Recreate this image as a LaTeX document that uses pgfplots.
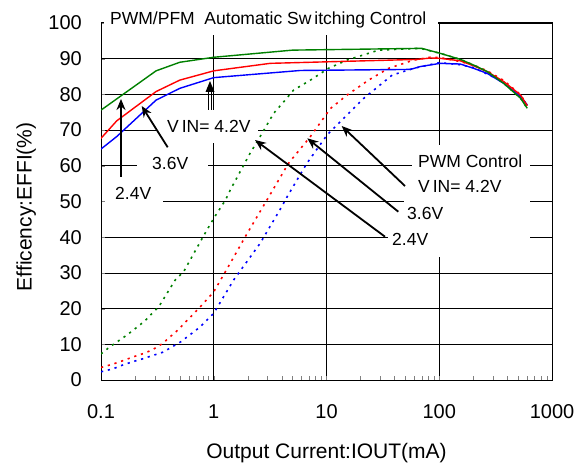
\documentclass[border=0pt]{standalone}
\usepackage{pgfplots}
\pgfplotsset{compat=1.18}
\usepackage{fontspec}
\setmainfont{Liberation Sans}
\usetikzlibrary{arrows.meta}
\definecolor{cg}{RGB}{0,128,0}
\definecolor{cr}{RGB}{255,0,0}
\definecolor{cb}{RGB}{0,0,255}
\begin{document}
\begin{tikzpicture}
\begin{axis}[
  name=ax, set layers, clip mode=individual,
  scale only axis, width=451pt, height=357pt,
  xmode=log, xmin=0.1, xmax=1000, ymin=0, ymax=100,
  xtick={0.1,1,10,100,1000}, xticklabels={0.1,1,10,100,1000},
  ytick={0,10,...,100},
  xtick pos=left, ytick pos=left, tick align=inside,
  major tick length=4pt, minor tick length=4pt,
  xmajorgrids, ymajorgrids,
  major grid style={black, line width=0.7pt},
  axis line style={line width=1pt},
  /pgf/number format/assume math mode=true,
  tick label style={font=\fontsize{20}{20}\selectfont},
  yticklabel style={anchor=east, inner sep=0pt, xshift=-19pt},
  xticklabel style={anchor=base, inner sep=0pt, yshift=-38pt},
  xlabel={Output Current:IOUT(mA)},
  ylabel={Efficency:EFFI(\%)},
  label style={font=\fontsize{21}{21}\selectfont},
  xlabel style={at={(axis description cs:0.5,0)}, anchor=base, yshift=-78pt},
  ylabel style={at={(axis description cs:-0.166,0.485)}, anchor=center},
]
% white boxes behind the labels, over the grid
\pgfplotsextra{%
\begin{pgfonlayer}{pre main}
\begin{scope}[shift={(rel axis cs:0,0)}]
  \fill[white] (3pt,345pt) rectangle (337pt,390pt);
  \node[anchor=base west, inner sep=0pt, font=\fontsize{17.5}{17.5}\selectfont]
    at (9pt,355pt) {PWM/PFM\ \ Automatic Sw\hspace{3pt}itching Control};
  \fill[white] (311pt,180pt) rectangle (429pt,235pt);
  \fill[white] (303pt,154pt) rectangle (429pt,180pt);
  \fill[white] (287pt,123pt) rectangle (429pt,154pt);
  \fill[white] (57pt,237pt) rectangle (157pt,270pt);
  \fill[white] (36pt,202pt) rectangle (107pt,230pt);
  \fill[white] (4pt,173pt) rectangle (62pt,197pt);
  \begin{scope}[every node/.style={anchor=base west, inner sep=0pt, font=\fontsize{17.5}{17.5}\selectfont}]
    \node at (317pt,212pt) {PWM Control};
    \node at (317pt,187pt) {V\hspace{3pt}IN= 4.2V};
    \node at (306pt,160pt) {3.6V};
    \node at (291pt,135pt) {2.4V};
    \node at (66pt,247pt) {V\hspace{3pt}IN= 4.2V};
    \node at (51pt,210pt) {3.6V};
    \node at (14pt,180pt) {2.4V};
  \end{scope}
\end{scope}
\end{pgfonlayer}}

% PWM control (dotted)
\addplot[cb, line width=1.6pt, dash pattern=on 2.2pt off 4.8pt] coordinates {
 (0.1,2.3) (0.127,3.1) (0.156,4.2) (0.19,5.1) (0.232,5.9) (0.284,6.8) (0.355,7.8)
 (0.428,9.3) (0.51,10.7) (0.76,14.9) (1.0,18.7) (1.5,28.0) (2.58,38.3) (4.0,48.5)
 (4.47,51.3) (5.47,56.0) (6.7,60.7) (10.1,68.6) (14.2,73.3) (21.4,78.9) (38.2,85.4)
 (59.3,87.3) (100,88.9) (154,88.3) (202,87.5) (266,85.7) (373,83.4) (527,79.2) (603,77.2)};
\addplot[cr, line width=1.6pt, dash pattern=on 2.2pt off 4.8pt] coordinates {
 (0.1,3.5) (0.129,4.5) (0.156,5.4) (0.19,6.4) (0.232,7.3) (0.284,8.4) (0.355,10.3)
 (0.41,12.1) (0.47,13.7) (0.76,20.5) (1.0,24.7) (1.4,32.7) (1.9,40.1) (2.96,50.4)
 (4.6,60.7) (7.2,68.2) (10.8,76.0) (15.2,79.8) (23.6,84.0) (35.5,87.3) (59.3,89.6)
 (83,90.4) (102,90.3) (154,89.2) (202,88.2) (266,86.6) (373,83.9) (527,79.9) (603,76.9)};
\addplot[cg, line width=1.6pt, dash pattern=on 2.2pt off 4.8pt] coordinates {
 (0.1,7.3) (0.12,9.3) (0.17,12.6) (0.24,16.3) (0.325,20.5) (0.455,28.0) (0.54,30.3)
 (0.82,40.6) (1.0,45.3) (1.27,50.4) (1.4,53.2) (2.1,63.5) (2.58,68.2) (3.4,74.7)
 (4.3,78.4) (5.1,81.2) (7.2,84.0) (10.4,87.3) (15.2,89.6) (29,92.4) (68,92.9)
 (102,91.5) (154,89.8) (202,88.2) (266,86.4) (373,83.1) (527,78.9) (603,76.1)};

% PWM/PFM automatic switching (solid)
\addplot[cb, line width=1.4pt] coordinates {
 (0.1,64.7) (0.138,68.2) (0.308,78.4) (0.5,81.7) (1,84.7) (5.86,86.7) (55.5,87.0)
 (68,87.8) (102,88.7) (154,88.5) (202,87.3) (266,85.9) (373,83.1) (527,79.4) (603,77.0)};
\addplot[cr, line width=1.4pt] coordinates {
 (0.1,67.7) (0.138,72.6) (0.308,80.8) (0.5,84.0) (1,86.6) (3.17,88.7) (63.5,89.8)
 (83.6,90.2) (102,90.1) (154,89.4) (202,88.0) (266,86.4) (373,83.6) (527,79.8) (603,76.8)};
\addplot[cg, line width=1.4pt] coordinates {
 (0.1,75.6) (0.308,86.6) (0.5,89.0) (1,90.4) (5,92.4) (70,92.9) (102,91.5)
 (154,89.8) (202,88.2) (266,86.4) (373,83.1) (527,78.9) (603,76.1)};

% arrows
\pgfplotsextra{%
\begin{scope}[shift={(rel axis cs:0,0)}]
  \begin{scope}[line width=1.8pt, -{Stealth[length=11pt,width=9pt]}]
    \draw (304pt,194pt) -- (240.7pt,254pt);
    \draw (297.3pt,168.3pt) -- (206.3pt,241.7pt);
    \draw (284pt,143.3pt) -- (154pt,240pt);
    \draw (20pt,203pt) -- (20pt,281pt);
    \draw (66.7pt,232.7pt) -- (40.7pt,274pt);
  \end{scope}
  \draw[line width=1pt] (107.5pt,270pt) -- (107.5pt,290pt);
  \draw[line width=1pt] (110.5pt,270pt) -- (110.5pt,290pt);
  \fill (104.5pt,288pt) -- (109pt,299pt) -- (113.5pt,288pt) -- cycle;
\end{scope}}
\end{axis}
\pgfresetboundingbox
\path ([shift={(-101pt,-86pt)}]ax.south west) rectangle ++(575pt,466pt);
\end{tikzpicture}
\end{document}
